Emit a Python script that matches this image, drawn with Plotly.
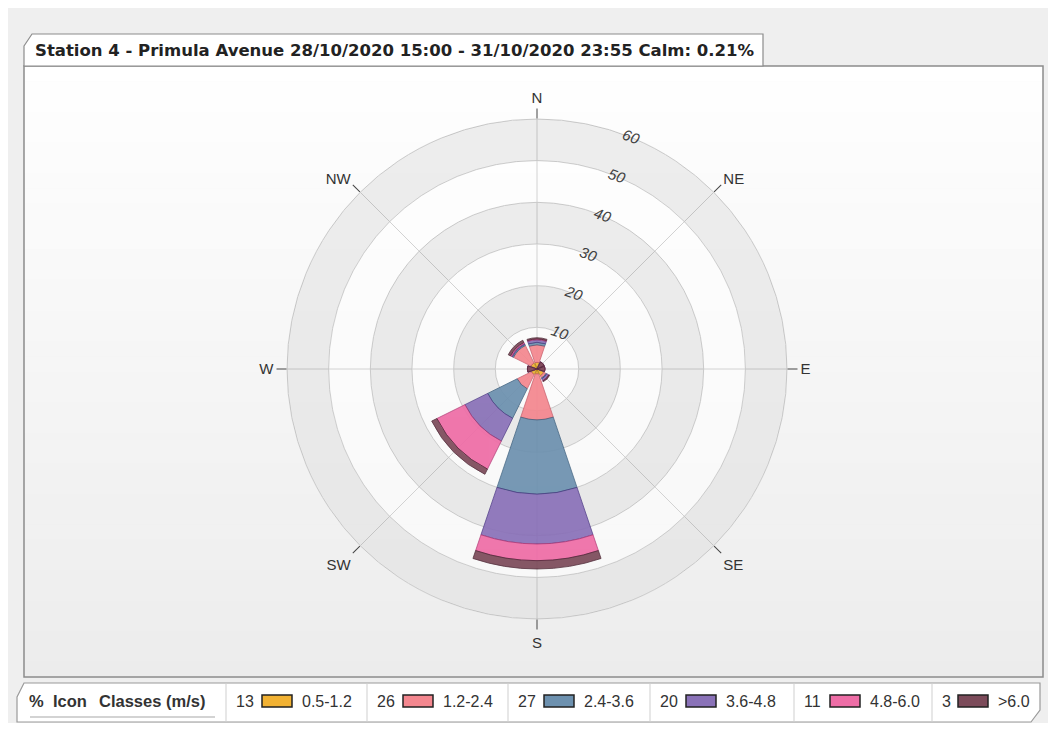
import numpy as np
import plotly.graph_objects as go

# ---------------- data ----------------
DIRS = ["N", "NE", "E", "SE", "S", "SW", "W", "NW"]
CLASSES = ["0.5-1.2", "1.2-2.4", "2.4-3.6", "3.6-4.8", "4.8-6.0", ">6.0"]
LEGEND_PCT = [13, 26, 27, 20, 11, 3]
RADIAL_TICKS = [10, 20, 30, 40, 50, 60]

# frequency (%) per direction for each speed class
C_05_12 = [1.6, 1.6, 1.6, 1.8, 1.2, 1.5, 1.8, 1.6]
C_12_24 = [4.2, 0.3, 0.3, 0.6, 11.0, 3.8, 0.5, 4.7]
C_24_36 = [0.6, 0.0, 0.0, 0.2, 17.8, 7.9, 0.0, 0.3]
C_36_48 = [0.6, 0.0, 0.0, 0.5, 12.0, 6.1, 0.0, 0.2]
C_48_60 = [0.2, 0.0, 0.0, 0.1, 4.0, 7.5, 0.0, 0.3]
C_GT_60 = [0.3, 0.0, 0.0, 0.2, 2.0, 1.4, 0.0, 0.6]

TITLE = "Station 4 - Primula Avenue 28/10/2020 15:00 - 31/10/2020 23:55 Calm: 0.21%"

# ---------------- style ----------------
FILL = ["#F2B233", "#F4878F", "#6D91AF", "#8A72B8", "#EE6DA6", "#7C4B5A"]
LINE = ["#A87A12", "#C85A68", "#3D5F7E", "#4E3A86", "#B23A76", "#4A2432"]
FONT = "Liberation Sans, Arial, sans-serif"

OFF = 8                      # page body margin
FW, FH = 1040, 715           # figure size


def X(px):
    return (px - OFF) / FW


def Y(py):
    return 1 - (py - OFF) / FH


vals = np.array([C_05_12, C_12_24, C_24_36, C_36_48, C_48_60, C_GT_60], dtype=float)
bases = np.vstack([np.zeros(vals.shape[1]), np.cumsum(vals, axis=0)[:-1]])
angles = np.arange(len(DIRS)) * 360.0 / len(DIRS)
sector = 360.0 / len(DIRS)

fig = go.Figure()

# alternating grey rings
ring_bases = RADIAL_TICKS[0::2]
ring_w = RADIAL_TICKS[1] - RADIAL_TICKS[0]
fig.add_trace(go.Barpolar(
    r=[ring_w] * len(ring_bases), base=ring_bases, theta=[0] * len(ring_bases),
    width=[360] * len(ring_bases),
    marker=dict(color="rgba(0,0,0,0.065)", line=dict(width=0)),
    hoverinfo="skip", showlegend=False,
))

for k, name in enumerate(CLASSES):
    r = np.where(vals[k] > 0, vals[k], np.nan)
    fig.add_trace(go.Barpolar(
        r=r, base=bases[k], theta=angles, width=[sector * 0.83] * len(DIRS),
        name=name,
        marker=dict(color=FILL[k], opacity=0.93, line=dict(color=LINE[k], width=0.8)),
        showlegend=False,
    ))

fig.update_layout(
    width=FW, height=FH,
    margin=dict(l=0, r=0, t=0, b=0),
    paper_bgcolor="#EFEFEF",
    plot_bgcolor="rgba(0,0,0,0)",
    font=dict(family=FONT, color="#333333"),
    polar=dict(
        domain=dict(x=[X(287), X(787)], y=[Y(619), Y(119)]),
        bgcolor="rgba(255,255,255,0.55)",
        barmode="overlay",
        radialaxis=dict(
            range=[0, 60], tickmode="array", tickvals=RADIAL_TICKS,
            angle=70, tickangle=90, showline=False, ticks="",
            gridcolor="#D2D2D2", gridwidth=1, layer="below traces",
            tickfont=dict(family=FONT, size=15, color="#444444", style="italic"),
        ),
        angularaxis=dict(
            rotation=90, direction="clockwise", tickmode="array",
            tickvals=angles, ticktext=DIRS, ticks="outside", ticklen=10,
            tickcolor="#444444", linecolor="#CFCFCF", gridcolor="#D2D2D2",
            layer="below traces",
            tickfont=dict(family=FONT, size=15, color="#333333"),
        ),
    ),
)

shapes = []
# panel gradient
n = 40
top, bot = 66, 677
for i in range(n):
    y0 = top + (bot - top) * i / n
    y1 = top + (bot - top) * (i + 1) / n
    g = int(round(255 - (255 - 236) * (i + 0.5) / n))
    shapes.append(dict(type="rect", xref="paper", yref="paper", layer="below",
                       x0=X(24), x1=X(1043), y0=Y(y1 + 0.5), y1=Y(y0),
                       fillcolor=f"rgb({g},{g},{g})", line=dict(width=0)))
shapes.append(dict(type="rect", xref="paper", yref="paper", layer="below",
                   x0=X(24), x1=X(1043), y0=Y(bot), y1=Y(top),
                   fillcolor="rgba(0,0,0,0)", line=dict(color="#8C8C8C", width=1.5)))
# title tab
tab = (f"M {X(24)} {Y(46)} L {X(32)} {Y(34)} L {X(763)} {Y(34)} "
       f"L {X(763)} {Y(66)} L {X(24)} {Y(66)} Z")
shapes.append(dict(type="path", xref="paper", yref="paper", layer="below", path=tab,
                   fillcolor="#FFFFFF", line=dict(color="#8C8C8C", width=1.2)))
# legend strip
leg = (f"M {X(17)} {Y(697)} L {X(24)} {Y(683)} L {X(1040)} {Y(683)} "
       f"L {X(1040)} {Y(710)} L {X(1031)} {Y(722)} L {X(17)} {Y(722)} Z")
shapes.append(dict(type="path", xref="paper", yref="paper", layer="below", path=leg,
                   fillcolor="#FFFFFF", line=dict(color="#9A9A9A", width=1.2)))
shapes.append(dict(type="line", xref="paper", yref="paper", layer="below",
                   x0=X(30), x1=X(215), y0=Y(717), y1=Y(717),
                   line=dict(color="#C4C4C4", width=1.5)))

annotations = []
annotations.append(dict(text=f"<b>{TITLE}</b>", x=X(33), y=Y(50), xref="paper", yref="paper",
                        xanchor="left", yanchor="middle", showarrow=False,
                        font=dict(family="DejaVu Sans, Verdana, sans-serif", size=16.5, color="#222222")))

# legend header
for txt, px in [("%", 27), ("Icon", 51), ("Classes (m/s)", 97)]:
    annotations.append(dict(text=f"<b>{txt}</b>", x=X(px), y=Y(701), xref="paper", yref="paper",
                            xanchor="left", yanchor="middle", showarrow=False,
                            font=dict(family=FONT, size=16.5, color="#333333")))

SEP_X = [226, 367, 508, 650, 794, 932]
for k in range(len(CLASSES)):
    x0 = SEP_X[k]
    shapes.append(dict(type="line", xref="paper", yref="paper", layer="below",
                       x0=X(x0), x1=X(x0), y0=Y(722), y1=Y(683),
                       line=dict(color="#CFCFCF", width=1)))
    annotations.append(dict(text=str(LEGEND_PCT[k]), x=X(x0 + 8), y=Y(701), xref="paper", yref="paper",
                            xanchor="left", yanchor="middle", showarrow=False,
                            font=dict(family=FONT, size=16, color="#333333")))
    sw = x0 + (36 if LEGEND_PCT[k] >= 10 else 26)
    shapes.append(dict(type="rect", xref="paper", yref="paper", layer="above",
                       x0=X(sw), x1=X(sw + 30), y0=Y(707), y1=Y(695),
                       fillcolor=FILL[k], line=dict(color="#222222", width=1.5)))
    annotations.append(dict(text=CLASSES[k], x=X(sw + 38), y=Y(701), xref="paper", yref="paper",
                            xanchor="left", yanchor="middle", showarrow=False,
                            font=dict(family=FONT, size=16, color="#333333")))

fig.update_layout(shapes=shapes, annotations=annotations)
fig.write_html("out.html")
